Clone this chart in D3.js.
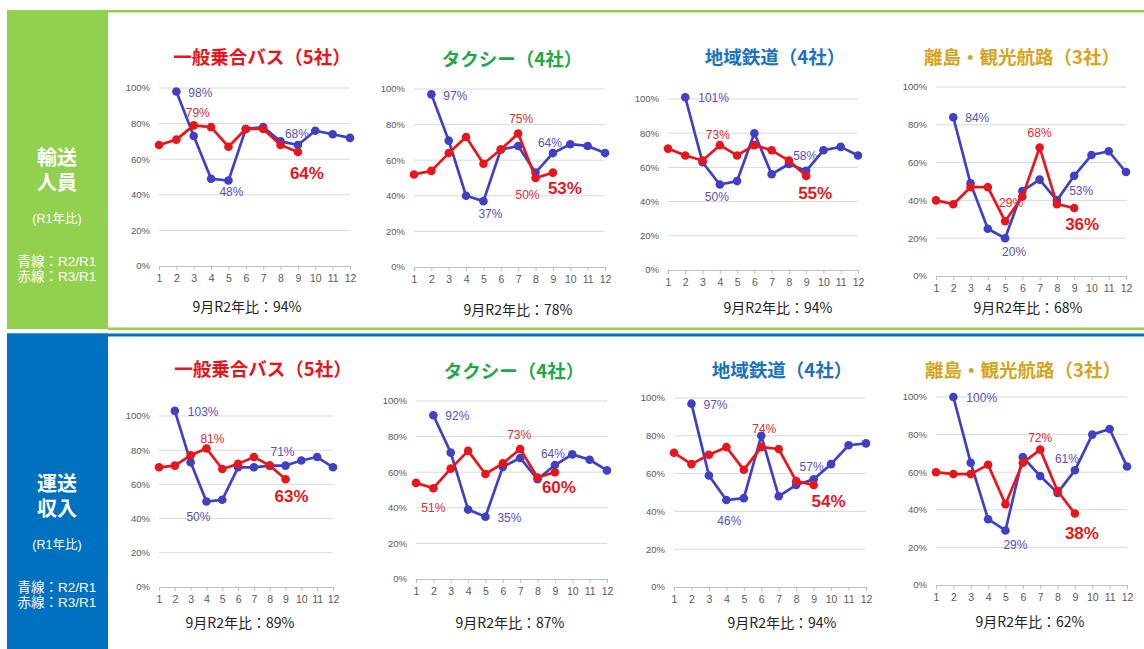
<!DOCTYPE html>
<html>
<head>
<meta charset="utf-8">
<script src="https://cdn.jsdelivr.net/npm/d3@7"></script>
<style>
  html, body { margin: 0; padding: 0; background: #fff; }
  svg { display: block; }
</style>
</head>
<body>
<div id="chart"></div>
<script>
// months and axis ticks
var months = [1, 2, 3, 4, 5, 6, 7, 8, 9, 10, 11, 12];
var yTicks = [0, 20, 40, 60, 80, 100];

var panelTitles = ["一般乗合バス（5社）", "タクシー（4社）", "地域鉄道（4社）", "離島・観光航路（3社）"];
var rowTitles = [["輸送", "人員"], ["運送", "収入"]];

// 輸送人員  (blue = R2/R1, red = R3/R1)
var busPassR2   = [null, 98, 73, 49, 48, 77, 78, 70, 68, 76, 74, 72];
var busPassR3   = [68, 71, 79, 78, 67, 77, 77, 68, 64];
var taxiPassR2  = [null, 97, 71, 40, 37, 66, 68, 53, 64, 69, 68, 64];
var taxiPassR3  = [52, 54, 64, 73, 58, 66, 75, 50, 53];
var railPassR2  = [null, 101, 63, 50, 52, 80, 56, 62, 58, 70, 72, 67];
var railPassR3  = [71, 67, 64, 73, 67, 73, 70, 64, 55];
var ferryPassR2 = [null, 84, 49, 25, 20, 45, 51, 40, 53, 64, 66, 55];
var ferryPassR3 = [40, 38, 47, 47, 29, 42, 68, 38, 36];

// 運送収入
var busRevR2   = [null, 103, 73, 50, 51, 70, 70, 71, 71, 74, 76, 70];
var busRevR3   = [70, 71, 77, 81, 69, 72, 76, 71, 63];
var taxiRevR2  = [null, 92, 71, 39, 35, 63, 68, 56, 64, 70, 67, 61];
var taxiRevR3  = [54, 51, 62, 72, 59, 65, 73, 57, 60];
var railRevR2  = [null, 97, 59, 46, 47, 80, 48, 54, 57, 65, 75, 76];
var railRevR3  = [71, 65, 70, 74, 62, 74, 73, 56, 54];
var ferryRevR2 = [null, 100, 65, 35, 29, 68, 58, 49, 61, 80, 83, 63];
var ferryRevR3 = [60, 59, 59, 64, 43, 65, 72, 50, 38];

// 9月 R2年比
var sepVsR2 = [94, 78, 94, 68, 89, 87, 94, 62];

var titleColors = ["#E8141A", "#1EA84A", "#1B72BE", "#D6A41E"];
var BLUE = "#4040C6", BLUE_TXT = "#5A50C0", RED = "#E8161C", RED_TXT = "#E02A2E";

// panel frames in page pixels
var frames = [
  {x0: 159, x1: 350, yT: 88,  yB: 266, tx: 262,  ty: 58,  fx: 247,  fy: 307},
  {x0: 414, x1: 605, yT: 89,  yB: 267, tx: 512,  ty: 60,  fx: 518,  fy: 310},
  {x0: 668, x1: 858, yT: 99,  yB: 270, tx: 775,  ty: 58,  fx: 778,  fy: 308},
  {x0: 936, x1: 1126, yT: 87, yB: 276, tx: 1022, ty: 58,  fx: 1028, fy: 308},
  {x0: 159, x1: 333, yT: 416, yB: 587, tx: 263,  ty: 370, fx: 240,  fy: 623},
  {x0: 416, x1: 607, yT: 401, yB: 579, tx: 514,  ty: 372, fx: 510,  fy: 623},
  {x0: 674, x1: 866, yT: 398, yB: 587, tx: 782,  ty: 371, fx: 782,  fy: 623},
  {x0: 936, x1: 1127, yT: 397, yB: 585, tx: 1023, ty: 371, fx: 1030, fy: 622}
];

// data label placement: [series, month, dx, dy, anchor, big]
var labelSpots = [
  [["b", 2, 12, 1, "start"], ["r", 3, 4, -13, "middle"], ["b", 5, 3, 11, "middle"], ["b", 9, -1, -11, "middle"], ["r", 9, 9, 21, "middle", 1]],
  [["b", 2, 12, 1, "start"], ["b", 5, 7, 13, "middle"], ["r", 7, 3, -15, "middle"], ["r", 8, -8, 17, "middle"], ["b", 9, -3, -10, "middle"], ["r", 9, 12, 15, "middle", 1]],
  [["b", 2, 13, 1, "start"], ["r", 4, -2, -10, "middle"], ["b", 4, -3, 12, "middle"], ["b", 9, -1, -15, "middle"], ["r", 9, 9, 17, "middle", 1]],
  [["b", 2, 12, 1, "start"], ["r", 5, 6, -18, "middle"], ["b", 5, 9, 14, "middle"], ["r", 7, 0, -15, "middle"], ["b", 9, 7, 15, "middle"], ["r", 9, 8, 16, "middle", 1]],
  [["b", 2, 13, 1, "start"], ["r", 4, 6, -10, "middle"], ["b", 4, -8, 15, "middle"], ["b", 9, -3, -14, "middle"], ["r", 9, 6, 17, "middle", 1]],
  [["b", 2, 12, 1, "start"], ["r", 2, 0, 20, "middle"], ["b", 5, 24, 1, "middle"], ["r", 7, -1, -14, "middle"], ["b", 9, -2, -11, "middle"], ["r", 9, 4, 15, "middle", 1]],
  [["b", 2, 12, 1, "start"], ["r", 6, 3, -18, "middle"], ["b", 4, 3, 21, "middle"], ["b", 9, -2, -12, "middle"], ["r", 9, 15, 16, "middle", 1]],
  [["b", 2, 13, 1, "start"], ["r", 7, 0, -12, "middle"], ["b", 5, 10, 14, "middle"], ["b", 9, -8, -12, "middle"], ["r", 9, 7, 19, "middle", 1]]
];

var seriesR2 = [busPassR2, taxiPassR2, railPassR2, ferryPassR2, busRevR2, taxiRevR2, railRevR2, ferryRevR2];
var seriesR3 = [busPassR3, taxiPassR3, railPassR3, ferryPassR3, busRevR3, taxiRevR3, railRevR3, ferryRevR3];

var JP = "'Noto Sans CJK JP', 'Noto Sans', sans-serif";
var SIDE = "'Liberation Sans', 'Noto Sans CJK JP', sans-serif";
var NUM = "'Liberation Sans', Arial, sans-serif";

var svg = d3.select("#chart").append("svg")
    .attr("width", 1144)
    .attr("height", 649);

// section frames
svg.append("rect").attr("x", 7).attr("y", 10).attr("width", 1137).attr("height", 2.5).attr("fill", "#92D050");
svg.append("rect").attr("x", 7).attr("y", 10).attr("width", 101).attr("height", 319).attr("fill", "#92D050");
svg.append("rect").attr("x", 108).attr("y", 327.5).attr("width", 1036).attr("height", 2.5).attr("fill", "#92D050");
svg.append("rect").attr("x", 7).attr("y", 333.5).attr("width", 1137).attr("height", 3).attr("fill", "#0070C0");
svg.append("rect").attr("x", 7).attr("y", 333.5).attr("width", 101).attr("height", 316).attr("fill", "#0070C0");

// side captions
[0, 1].forEach(function(r) {
    var top = r === 0 ? 10 : 336;
    var g = svg.append("g").attr("fill", "#fff").attr("font-family", SIDE).attr("text-anchor", "middle");
    g.append("text").attr("x", 57).attr("y", top + 155).attr("font-size", 20).attr("font-weight", "bold").text(rowTitles[r][0]);
    g.append("text").attr("x", 57).attr("y", top + 180).attr("font-size", 20).attr("font-weight", "bold").text(rowTitles[r][1]);
    g.append("text").attr("x", 57).attr("y", top + 213).attr("font-size", 12.5).text("(R1年比)");
    g.append("text").attr("x", 57).attr("y", top + 256).attr("font-size", 13.5).text("青線：R2/R1");
    g.append("text").attr("x", 57).attr("y", top + 271).attr("font-size", 13.5).text("赤線：R3/R1");
});

frames.forEach(function(f, i) {
    var x = d3.scalePoint().domain(months).range([f.x0, f.x1]).padding(0);
    var y = d3.scaleLinear().domain([0, 100]).range([f.yB, f.yT]);
    var g = svg.append("g").attr("class", "panel");

    // gridlines
    g.selectAll("line.grid").data(yTicks.filter(function(t) { return t > 0; })).enter()
        .append("line")
        .attr("x1", f.x0).attr("x2", f.x1)
        .attr("y1", function(d) { return y(d); }).attr("y2", function(d) { return y(d); })
        .attr("stroke", "#D9D9D9").attr("stroke-width", 1);

    // y labels
    g.selectAll("text.yl").data(yTicks).enter()
        .append("text")
        .attr("x", f.x0 - 9).attr("y", function(d) { return y(d); })
        .attr("dy", "0.35em")
        .attr("text-anchor", "end")
        .attr("font-family", NUM).attr("font-size", 9.5).attr("fill", "#595959")
        .text(function(d) { return d + "%"; });

    // x axis
    var xa = g.append("g").attr("transform", "translate(0," + f.yB + ")")
        .call(d3.axisBottom(x).tickSize(4).tickPadding(5).tickSizeOuter(0));
    xa.select(".domain").attr("stroke", "#BFBFBF");
    xa.selectAll(".tick line").attr("stroke", "#BFBFBF");
    xa.selectAll(".tick text").attr("font-family", NUM).attr("font-size", 10.5).attr("fill", "#595959");

    var line = d3.line()
        .defined(function(d) { return d != null; })
        .x(function(d, k) { return x(months[k]); })
        .y(function(d) { return y(d); });

    [[seriesR2[i], BLUE], [seriesR3[i], RED]].forEach(function(s) {
        g.append("path").datum(s[0])
            .attr("d", line)
            .attr("fill", "none").attr("stroke", s[1]).attr("stroke-width", 2.7)
            .attr("stroke-linejoin", "round");
        g.selectAll(null).data(s[0].map(function(v, k) { return {v: v, m: months[k]}; })
                .filter(function(d) { return d.v != null; }))
            .enter().append("circle")
            .attr("cx", function(d) { return x(d.m); })
            .attr("cy", function(d) { return y(d.v); })
            .attr("r", 4.3)
            .attr("fill", s[1]);
    });

    // data labels
    labelSpots[i].forEach(function(L) {
        var arr = L[0] === "b" ? seriesR2[i] : seriesR3[i];
        var v = arr[L[1] - 1];
        var big = L[5] === 1;
        g.append("text")
            .attr("x", x(L[1]) + L[2]).attr("y", y(v) + L[3])
            .attr("dy", "0.35em")
            .attr("text-anchor", L[4])
            .attr("font-family", NUM)
            .attr("font-size", big ? 17 : 12)
            .attr("font-weight", big ? "bold" : "normal")
            .attr("fill", L[0] === "b" ? BLUE_TXT : (big ? RED : RED_TXT))
            .text(v + "%");
    });

    // title
    g.append("text").attr("x", f.tx).attr("y", f.ty).attr("dy", "0.35em")
        .attr("text-anchor", "middle")
        .attr("font-family", JP).attr("font-weight", "bold").attr("font-size", 18.5)
        .attr("fill", titleColors[i % 4])
        .text(panelTitles[i % 4]);

    // footnote
    g.append("text").attr("x", f.fx).attr("y", f.fy).attr("dy", "0.35em")
        .attr("text-anchor", "middle")
        .attr("font-family", JP).attr("font-size", 14).attr("fill", "#222")
        .text("9月R2年比：" + sepVsR2[i] + "%");
});
</script>
</body>
</html>
